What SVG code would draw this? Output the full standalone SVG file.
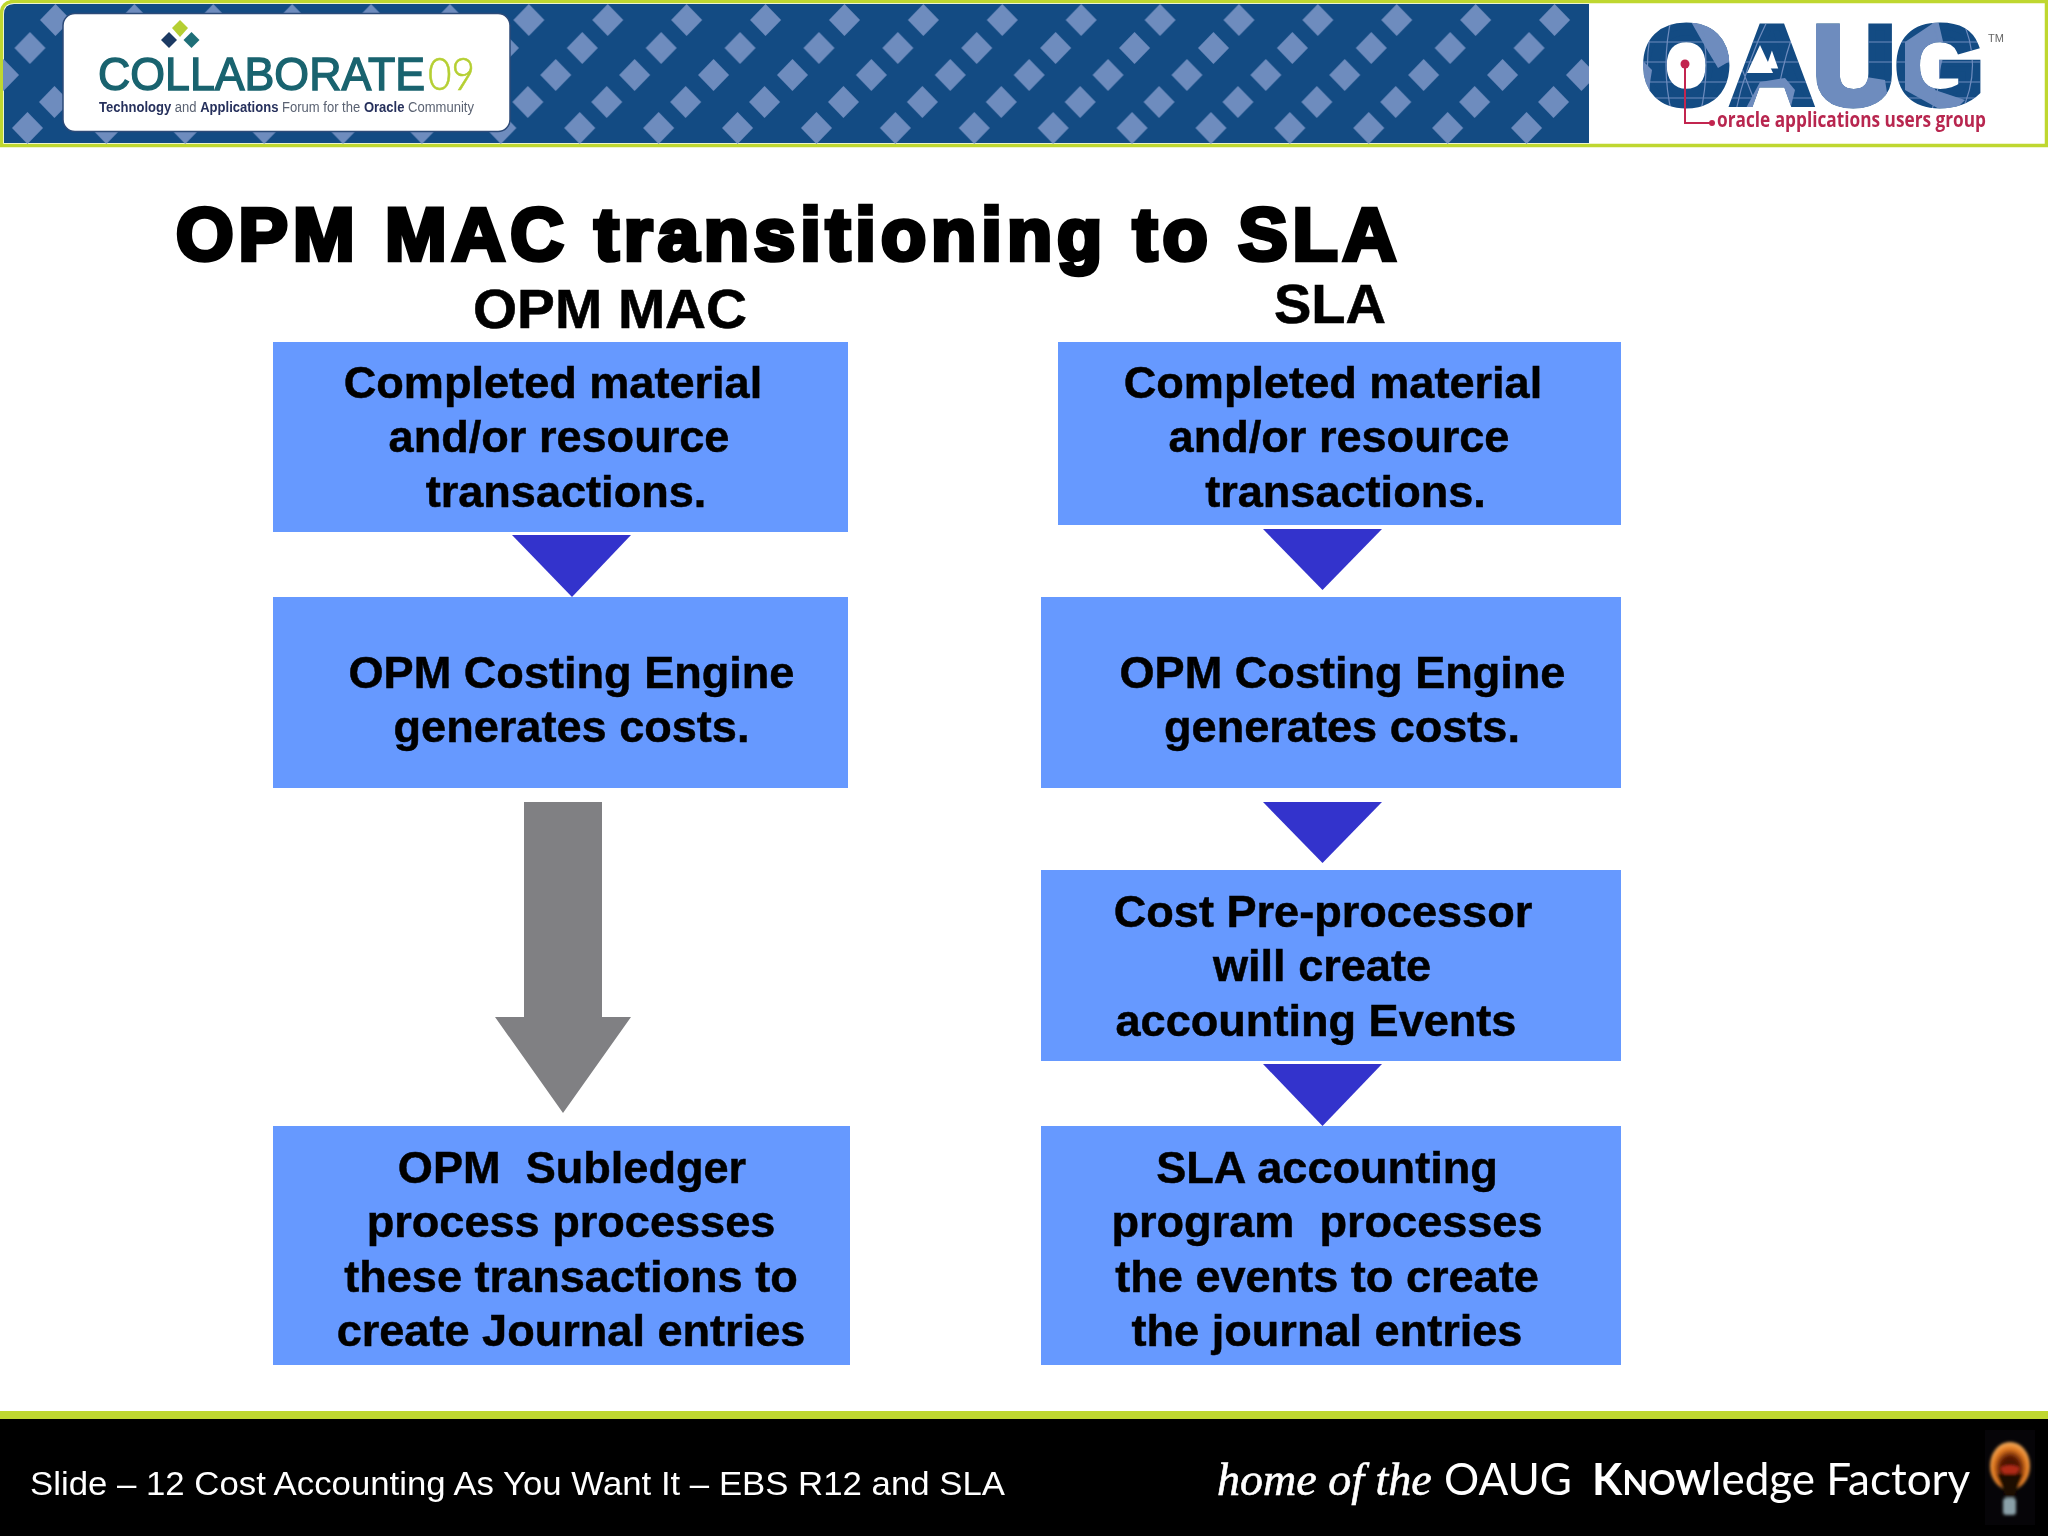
<svg xmlns="http://www.w3.org/2000/svg" width="2048" height="1536" viewBox="0 0 2048 1536">
<style>
text{font-family:"Liberation Sans",Arial,sans-serif}
.box{fill:#6699ff}
.t{font-size:45.100px;font-weight:700;fill:#000;text-anchor:middle;stroke:#000;stroke-width:.5px;white-space:pre}
.h{font-size:56px;font-weight:700;fill:#000;stroke:#000;stroke-width:.6px}
.arrow{fill:#3333cc}
</style>
<defs>
<pattern id="d1" width="78.9" height="32" patternUnits="userSpaceOnUse"><path d="M39.45 0L55 16L39.45 32L24 16Z" fill="#6e8cbe"/></pattern>
<clipPath id="bannerClip"><rect x="3" y="3" width="1586" height="141"/></clipPath>
<radialGradient id="bulb" cx=".5" cy=".55" r=".55"><stop offset="0" stop-color="#2a0800"/><stop offset=".45" stop-color="#5c1a05"/><stop offset=".75" stop-color="#e27a20"/><stop offset="1" stop-color="#f5b060"/></radialGradient>
<filter id="soft" x="-30%" y="-30%" width="160%" height="160%"><feGaussianBlur stdDeviation="1.500"/></filter>
</defs>
<rect width="2048" height="1536" fill="#fff"/>

<g id="header">
<path d="M14 1.500H2046.500V145.500H1.500V14Q1.500 1.500 14 1.500Z" fill="#fff" stroke="#bfd730" stroke-width="3.500"/>
<path d="M14 4H1589V143H4V14Q4 4 14 4Z" fill="#134b83"/>
<g clip-path="url(#bannerClip)">
<rect transform="translate(16 4)" width="1640" height="32" fill="url(#d1)"/>
<rect transform="translate(-9.500 32)" width="1640" height="32" fill="url(#d1)"/>
<rect transform="translate(-36 59)" width="1640" height="32" fill="url(#d1)"/>
<rect transform="translate(15 86)" width="1640" height="32" fill="url(#d1)"/>
<rect transform="translate(-12 112)" width="1640" height="32" fill="url(#d1)"/>
</g>
<g id="collaborate-logo">
<rect x="63" y="13.500" width="447" height="118" rx="12" fill="#fff" stroke="#2c4a78" stroke-width="1.500"/>
<path d="M180 20l8 8-8 9-8-9z" fill="#b5cf32"/>
<path d="M169 32l8 8-8 8-8-8z" fill="#1c3a63"/>
<path d="M191.500 32l8 8-8 8-8-8z" fill="#1f6f78"/>
<text x="98" y="90" font-size="46" fill="#19636f" textLength="327" lengthAdjust="spacingAndGlyphs" stroke="#19636f" stroke-width="1.400">COLLABORATE</text>
<text x="428" y="90" font-size="46" fill="#b5cf32" stroke="#b5cf32" stroke-width=".6" textLength="47" lengthAdjust="spacingAndGlyphs" style="font-family:Lato,'Liberation Sans',sans-serif;font-weight:300">09</text>
<text x="99" y="112" font-size="14" fill="#5a6272" textLength="375" lengthAdjust="spacingAndGlyphs"><tspan font-weight="700" fill="#26305c">Technology</tspan> and <tspan font-weight="700" fill="#26305c">Applications</tspan> Forum for the <tspan font-weight="700" fill="#26305c">Oracle</tspan> Community</text>
</g>
<g id="oaug-logo">
<text x="1642" y="104" font-size="112" font-weight="700" fill="#134b83" stroke="#134b83" stroke-width="7" textLength="342" lengthAdjust="spacingAndGlyphs">OAUG</text>
<g style="mix-blend-mode:lighten">
<g fill="#6e8cbe">
<path d="M1690 20L1722 27L1735 58L1718 68L1706 48Z"/>
<path d="M1640 58L1652 70L1648 96L1640 88Z"/>
<path d="M1745 110L1760 82L1785 78L1795 90L1790 110Z"/>
<path d="M1815 20H1848L1846 60L1860 76L1885 80L1890 112H1815Z"/>
<path d="M1905 42L1938 20L1945 50L1935 90L1965 100L1950 115L1905 90Z"/>
</g>
<g fill="none" stroke="#6e8cbe" stroke-width="1.200">
<path d="M1630 42H2000M1630 62H2000M1630 82H2000M1630 98H2000"/>
<path d="M1655 15Q1640 65 1655 115M1672 15Q1660 65 1672 115M1700 15Q1712 65 1700 115M1722 15Q1740 65 1760 115M1770 15Q1745 65 1735 115M1800 15Q1780 65 1775 115M1930 15Q1950 65 1930 115M1960 15Q1985 65 1960 115"/>
</g>
</g>
<path d="M1760 45L1773 73H1747Z" fill="#fff"/>
<ellipse cx="1685" cy="65" rx="17" ry="21" fill="#fff"/>
<path d="M1685 65V123H1712" fill="none" stroke="#c2254f" stroke-width="2"/>
<circle cx="1685" cy="64" r="4.500" fill="#c2254f"/>
<circle cx="1712" cy="123" r="3" fill="#c2254f"/>
<text x="1717" y="127" font-size="22" font-weight="700" fill="#b8264f" textLength="269" lengthAdjust="spacingAndGlyphs" style="font-family:'Open Sans','Liberation Sans',sans-serif">oracle applications users group</text>
<text x="1988" y="42" font-size="11" fill="#666">TM</text>
</g>
</g>

<text id="title" x="176" y="260" font-size="74" font-weight="700" fill="#000" stroke="#000" stroke-width="4.500" letter-spacing="5">OPM MAC transitioning to SLA</text>
<text id="heading-opm" class="h" x="473" y="328" textLength="274" lengthAdjust="spacingAndGlyphs">OPM MAC</text>
<text id="heading-sla" class="h" x="1274" y="323" textLength="112" lengthAdjust="spacingAndGlyphs">SLA</text>

<g id="connectors">
<path class="arrow" d="M512 535H631L572 597Z"/>
<path class="arrow" d="M1263 529H1382L1322.500 590Z"/>
<path class="arrow" d="M1263 802H1382L1322.500 863Z"/>
<path class="arrow" d="M1263 1064H1382L1322.500 1126Z"/>
<path d="M524 802H602V1017H631L563 1113L495 1017H524Z" fill="#808083"/>
</g>

<g id="opm-1"><rect class="box" x="273" y="342" width="575" height="190"/>
<text class="t" x="553" y="397.500">Completed material</text><text class="t" x="559" y="452">and/or resource</text><text class="t" x="566" y="506.500">transactions.</text></g>
<g id="opm-2"><rect class="box" x="273" y="597" width="575" height="191"/>
<text class="t" x="571.500" y="687.500">OPM Costing Engine</text><text class="t" x="571.500" y="742">generates costs.</text></g>
<g id="opm-3"><rect class="box" x="273" y="1126" width="577" height="239"/>
<text class="t" x="572" y="1182.500">OPM  Subledger</text><text class="t" x="571" y="1237">process processes</text><text class="t" x="571" y="1291.500">these transactions to</text><text class="t" x="571" y="1346">create Journal entries</text></g>

<g id="sla-1"><rect class="box" x="1058" y="342" width="563" height="183"/>
<text class="t" x="1333" y="397.500">Completed material</text><text class="t" x="1339" y="452">and/or resource</text><text class="t" x="1345.500" y="506.500">transactions.</text></g>
<g id="sla-2"><rect class="box" x="1041" y="597" width="580" height="191"/>
<text class="t" x="1342.500" y="687.500">OPM Costing Engine</text><text class="t" x="1342" y="742">generates costs.</text></g>
<g id="sla-3"><rect class="box" x="1041" y="870" width="580" height="191"/>
<text class="t" x="1323" y="926.500">Cost Pre-processor</text><text class="t" x="1322" y="981">will create</text><text class="t" x="1316" y="1035.500">accounting Events</text></g>
<g id="sla-4"><rect class="box" x="1041" y="1126" width="580" height="239"/>
<text class="t" x="1327" y="1182.500">SLA accounting</text><text class="t" x="1327" y="1237">program  processes</text><text class="t" x="1327" y="1291.500">the events to create</text><text class="t" x="1327" y="1346">the journal entries</text></g>

<g id="footer">
<rect y="1411" width="2048" height="8" fill="#bfd730"/>
<rect y="1419" width="2048" height="117" fill="#000"/>
<text x="30" y="1495" font-size="34" fill="#fff" textLength="975" lengthAdjust="spacingAndGlyphs">Slide – 12 Cost Accounting As You Want It – EBS R12 and SLA</text>
<text y="1495" fill="#fff" style="font-family:Lato,'Open Sans',sans-serif;font-weight:400"><tspan x="1217" font-size="46" font-style="italic" stroke="#fff" stroke-width=".6" style="font-family:'Liberation Serif',serif">home of the</tspan> <tspan x="1444" font-size="44">OAUG</tspan> <tspan x="1592" font-size="44" style="font-weight:700">K</tspan><tspan font-size="34" style="font-weight:700">NOW</tspan><tspan font-size="44">ledge Factory</tspan></text>
<g id="bulb-icon">
<rect x="1985" y="1430" width="50" height="95" fill="#060508"/>
<g filter="url(#soft)">
<ellipse cx="2010" cy="1466" rx="20" ry="24" fill="url(#bulb)"/>
<path d="M1997 1474L2006 1498H2014L2023 1474Z" fill="#1a0a04"/>
<path d="M2000 1468Q2010 1462 2020 1468L2016 1474H2004Z" fill="#b02a15"/>
<rect x="2003" y="1498" width="13" height="17" rx="3" fill="#8aa0a8"/>
</g>
</g>
</g>
</svg>
